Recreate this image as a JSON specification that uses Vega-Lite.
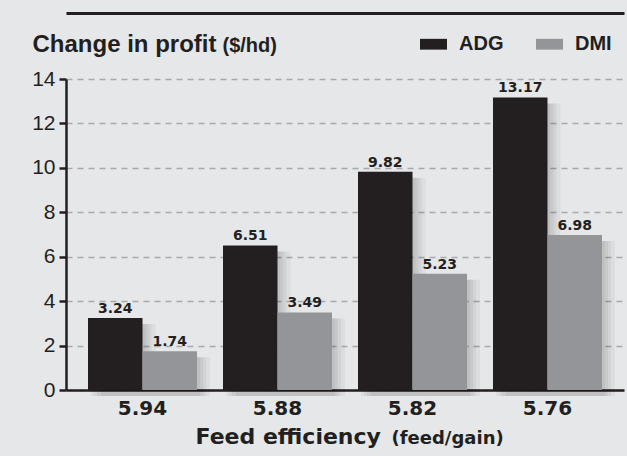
{
  "$schema": "https://vega.github.io/schema/vega-lite/v6.json",
  "width": 558,
  "height": 311,
  "autosize": {"type": "none"},
  "padding": {"left": 66, "top": 79, "right": 3, "bottom": 66},
  "background": "#e6e7e8",
  "config": {"view": {"stroke": null}},
  "data": {
    "values": [
      {"efficiency": "5.94", "series": "ADG", "profit": 3.24},
      {"efficiency": "5.94", "series": "DMI", "profit": 1.74},
      {"efficiency": "5.88", "series": "ADG", "profit": 6.51},
      {"efficiency": "5.88", "series": "DMI", "profit": 3.49},
      {"efficiency": "5.82", "series": "ADG", "profit": 9.82},
      {"efficiency": "5.82", "series": "DMI", "profit": 5.23},
      {"efficiency": "5.76", "series": "ADG", "profit": 13.17},
      {"efficiency": "5.76", "series": "DMI", "profit": 6.98}
    ]
  },
  "resolve": {"scale": {"xOffset": "independent"}, "axis": {"x": "independent", "y": "independent"}},
  "layer": [
    {
      "mark": {"type": "bar", "color": "#000000", "opacity": 0.045, "yOffset": 6},
      "encoding": {
        "x": {"field": "efficiency", "type": "nominal", "sort": null, "scale": {"paddingInner": 0.1926, "paddingOuter": 0.163}, "axis": null},
        "y": {"field": "profit", "type": "quantitative", "scale": {"domain": [0, 14]}, "axis": null},
        "xOffset": {"field": "series", "type": "nominal", "scale": {"range": [3, 112]}}
      }
    },
    {
      "mark": {"type": "bar", "color": "#000000", "opacity": 0.045, "yOffset": 6},
      "encoding": {
        "x": {"field": "efficiency", "type": "nominal", "sort": null, "axis": null},
        "y": {"field": "profit", "type": "quantitative", "axis": null},
        "xOffset": {"field": "series", "type": "nominal", "scale": {"range": [6, 115]}}
      }
    },
    {
      "mark": {"type": "bar", "color": "#000000", "opacity": 0.045, "yOffset": 6},
      "encoding": {
        "x": {"field": "efficiency", "type": "nominal", "sort": null, "axis": null},
        "y": {"field": "profit", "type": "quantitative", "axis": null},
        "xOffset": {"field": "series", "type": "nominal", "scale": {"range": [9, 118]}}
      }
    },
    {
      "mark": {"type": "bar", "color": "#000000", "opacity": 0.045, "yOffset": 6},
      "encoding": {
        "x": {"field": "efficiency", "type": "nominal", "sort": null, "axis": null},
        "y": {"field": "profit", "type": "quantitative", "axis": null},
        "xOffset": {"field": "series", "type": "nominal", "scale": {"range": [13, 122]}}
      }
    },
    {
      "mark": {"type": "bar"},
      "encoding": {
        "x": {
          "field": "efficiency", "type": "nominal", "sort": null,
          "axis": {
            "orient": "bottom", "labelAngle": 0, "ticks": false,
            "domainColor": "#231f20", "domainWidth": 2.5,
            "labelFont": "DejaVu Sans", "labelFontWeight": "bold", "labelFontSize": 20, "labelColor": "#231f20", "labelPadding": 8,
            "title": "Feed efficiency", "titleX": 129, "titleY": 53, "titleAlign": "left", "titleBaseline": "alphabetic",
            "titleFont": "DejaVu Sans", "titleFontSize": 22, "titleFontWeight": "bold", "titleColor": "#231f20"
          }
        },
        "y": {
          "field": "profit", "type": "quantitative",
          "axis": {
            "orient": "left", "values": [0, 2, 4, 6, 8, 10, 12, 14],
            "grid": true, "gridDash": [6, 5], "gridColor": "#a7a9ac", "gridWidth": 1.5,
            "domainColor": "#231f20", "domainWidth": 2.5,
            "tickColor": "#231f20", "tickWidth": 2.5, "tickSize": 7,
            "labelFont": "Liberation Sans", "labelFontSize": 21, "labelColor": "#231f20", "labelPadding": 4,
            "title": "Change in profit", "titleAngle": 0, "titleAlign": "left", "titleBaseline": "alphabetic",
            "titleX": -34, "titleY": -28,
            "titleFont": "Liberation Sans", "titleFontSize": 24, "titleFontWeight": "bold", "titleColor": "#231f20"
          }
        },
        "xOffset": {"field": "series", "type": "nominal"},
        "color": {
          "field": "series", "type": "nominal",
          "scale": {"range": ["#231f20", "#939598"]},
          "legend": {
            "orient": "none", "direction": "horizontal", "legendX": 354, "legendY": -48.5,
            "title": null, "padding": 0,
            "symbolType": "M-1,-0.4H1V0.4H-1Z", "symbolSize": 729, "symbolStrokeWidth": 0, "symbolOpacity": 1,
            "labelOffset": 12, "columnPadding": 32,
            "labelFont": "Liberation Sans", "labelFontWeight": "bold", "labelFontSize": 20, "labelColor": "#231f20"
          }
        }
      }
    },
    {
      "mark": {"type": "text", "font": "DejaVu Sans", "fontWeight": "bold", "fontSize": 14, "color": "#231f20", "baseline": "alphabetic", "dy": -5},
      "encoding": {
        "x": {
          "field": "efficiency", "type": "nominal", "sort": null,
          "axis": {
            "orient": "top", "offset": 66, "domain": true, "domainColor": "#231f20", "domainWidth": 3,
            "ticks": false, "labels": false, "grid": false,
            "title": "(feed/gain)", "titleX": 325, "titleY": 430, "titleAlign": "left", "titleBaseline": "alphabetic",
            "titleFont": "DejaVu Sans", "titleFontSize": 18, "titleFontWeight": "bold", "titleColor": "#231f20"
          }
        },
        "y": {
          "field": "profit", "type": "quantitative",
          "axis": {
            "orient": "right", "domain": false, "labels": false, "grid": false, "ticks": false,
            "title": "($/hd)", "titleAngle": 0, "titleAlign": "left", "titleBaseline": "alphabetic",
            "titleX": -402, "titleY": -28,
            "titleFont": "Liberation Sans", "titleFontSize": 20, "titleFontWeight": "bold", "titleColor": "#231f20"
          }
        },
        "xOffset": {"field": "series", "type": "nominal"},
        "text": {"field": "profit", "type": "quantitative", "format": ".2f"}
      }
    }
  ]
}
